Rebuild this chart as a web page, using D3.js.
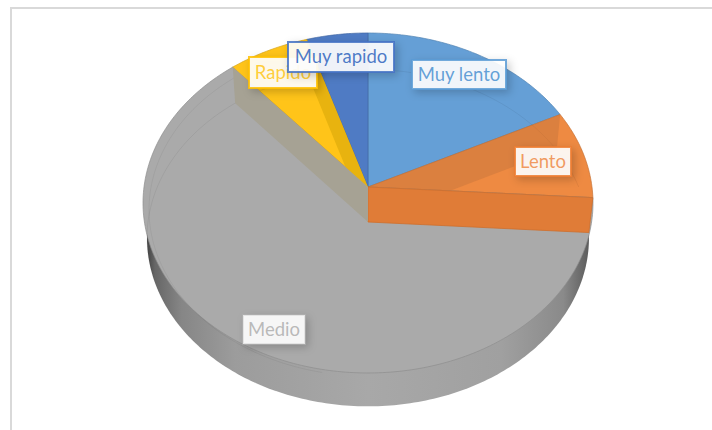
<!DOCTYPE html>
<html>
<head>
<meta charset="utf-8">
<script src="https://cdn.jsdelivr.net/npm/d3@7"></script>
<style>
  html, body { margin: 0; padding: 0; background: #fff; }
  svg { display: block; }
  text { font-family: Lato, "Open Sans", sans-serif; }
</style>
</head>
<body>
<svg id="chart" width="712" height="430"></svg>
<script>
const categories = ['Muy lento', 'Lento', 'Medio', 'Rapido', 'Muy rapido'];
const shares = [17.6, 8.4, 62.8, 6.4, 4.8];
const colors = ['#659fd6', '#ee8a42', '#aaaaaa', '#ffc419', '#4f7bc4'];
const textColors = ['#5b9bd5', '#ed7d31', '#a5a5a5', '#ffc000', '#4472c4'];

const svg = d3.select('#chart');
const defs = svg.append('defs');

// page frame
svg.append('path')
  .attr('d', 'M11 430V8H712')
  .attr('fill', 'none')
  .attr('stroke', '#d9d9d9')
  .attr('stroke-width', 2);

// the pie plane is tilted away from the viewer, so a circle turns into
// an off-centre ellipse: the apex sits above the middle of the ellipse
const perspective = 0.094;
const top3d = { cx: 368, cy: 187, a: 224, b: 168.5 };
const bottom3d = { cx: 368, cy: 222, a: 220, b: 167 };

function project (angle, plane) {
  const w = 1 + perspective * Math.cos(angle);
  return [
    plane.cx + plane.a * Math.sin(angle) / w,
    plane.cy - plane.b * Math.cos(angle) / w
  ];
}

const pie = d3.pie().sort(null).value((d) => d.share);
const slices = pie(categories.map((name, i) => ({ name, share: shares[i], color: colors[i] })));
const line = d3.line();

function rimPoints (a0, a1, plane) {
  const n = Math.max(2, Math.ceil((a1 - a0) * 60));
  return d3.range(n + 1).map((i) => project(a0 + (a1 - a0) * i / n, plane));
}

function sliceTop (d) {
  const apex = [top3d.cx, top3d.cy];
  return line([apex, ...rimPoints(d.startAngle, d.endAngle, top3d)]) + 'Z';
}

function cutWall (angle) {
  const a = [top3d.cx, top3d.cy];
  const b = project(angle, top3d);
  const c = project(angle, bottom3d);
  const e = [bottom3d.cx, bottom3d.cy];
  return line([a, b, c, e]) + 'Z';
}

// outer wall, shaded from the left edge to the right
const sideGrad = defs.append('linearGradient')
  .attr('id', 'side')
  .attr('gradientUnits', 'userSpaceOnUse')
  .attr('x1', 146).attr('x2', 590).attr('y1', 0).attr('y2', 0);
[[0, '#3f3f3f'], [0.02, '#666666'], [0.08, '#868686'], [0.2, '#9c9c9c'], [0.5, '#a8a8a8'], [0.8, '#a0a0a0'], [0.94, '#8a8a8a'], [1, '#5a5a5a']]
  .forEach(([o, c]) => sideGrad.append('stop').attr('offset', o).attr('stop-color', c));

svg.append('path')
  .attr('d', line(rimPoints(0, 2 * Math.PI, bottom3d)) + 'Z')
  .attr('fill', 'url(#side)');

// top faces
svg.append('g')
  .selectAll('path')
  .data(slices)
  .enter().append('path')
  .attr('d', sliceTop)
  .attr('fill', (d) => d.data.color)
  .attr('stroke', (d) => d3.color(d.data.color).darker(0.5))
  .attr('stroke-width', 0.7);

// back rim of the floor, showing through the transparent top
svg.append('path')
  .attr('d', line(rimPoints(-1.75 * Math.PI / 2, slices[0].endAngle + 0.25, bottom3d)))
  .attr('fill', 'none')
  .attr('stroke', '#000')
  .attr('stroke-opacity', 0.06);
svg.append('path')
  .attr('d', line(rimPoints(slices[2].startAngle + 1.7, slices[2].endAngle, { cx: 368, cy: 194, a: 218, b: 165 })))
  .attr('fill', 'none')
  .attr('stroke', '#000')
  .attr('stroke-opacity', 0.05);

// cut walls seen through the top faces
const wallsG = svg.append('g');

// Lento / Muy lento wall
wallsG.append('path')
  .attr('d', cutWall(slices[1].startAngle))
  .attr('fill', '#c4733b')
  .attr('fill-opacity', 0.45);

// Lento / Medio wall, this one faces the viewer
wallsG.append('path')
  .attr('d', cutWall(slices[1].endAngle))
  .attr('fill', '#e07c37')
  .attr('stroke', '#cf6f2c')
  .attr('stroke-width', 0.8);

// Rapido / Muy rapido wall
wallsG.append('path')
  .attr('d', cutWall(slices[3].endAngle))
  .attr('fill', '#e8b30f');

// Medio / Rapido wall
wallsG.append('path')
  .attr('d', cutWall(slices[3].startAngle))
  .attr('fill', '#a6a294');

// labels
const labelBoxes = {
  'Muy lento': [412, 60, 94, 29],
  'Lento': [515, 147, 56, 29],
  'Medio': [243, 315, 62, 29],
  'Rapido': [249, 57, 68, 31],
  'Muy rapido': [288, 42, 106, 30]
};

const shadow = defs.append('filter')
  .attr('id', 'shadow')
  .attr('x', '-20%').attr('y', '-30%').attr('width', '150%').attr('height', '170%');
shadow.append('feDropShadow')
  .attr('dx', 3).attr('dy', 3).attr('stdDeviation', 4)
  .attr('flood-color', '#000').attr('flood-opacity', 0.22);

categories.forEach((name, i) => {
  const [x, y, w, h] = labelBoxes[name];
  const g = svg.append('g');
  g.append('rect')
    .attr('x', x).attr('y', y).attr('width', w).attr('height', h)
    .attr('fill', '#fff')
    .attr('fill-opacity', 0.9)
    .attr('stroke', name === 'Medio' ? '#bbb' : textColors[i])
    .attr('stroke-opacity', name === 'Medio' ? 0.3 : 0.85)
    .attr('stroke-width', 2)
    .attr('filter', 'url(#shadow)');
  g.append('text')
    .attr('x', x + w / 2)
    .attr('y', y + h / 2 + 6)
    .attr('text-anchor', 'middle')
    .attr('font-size', 18.5)
    .attr('fill', textColors[i])
    .attr('fill-opacity', name === 'Muy rapido' || name === 'Muy lento' ? 0.95 : 0.75)
    .text(name);
});
</script>
</body>
</html>
